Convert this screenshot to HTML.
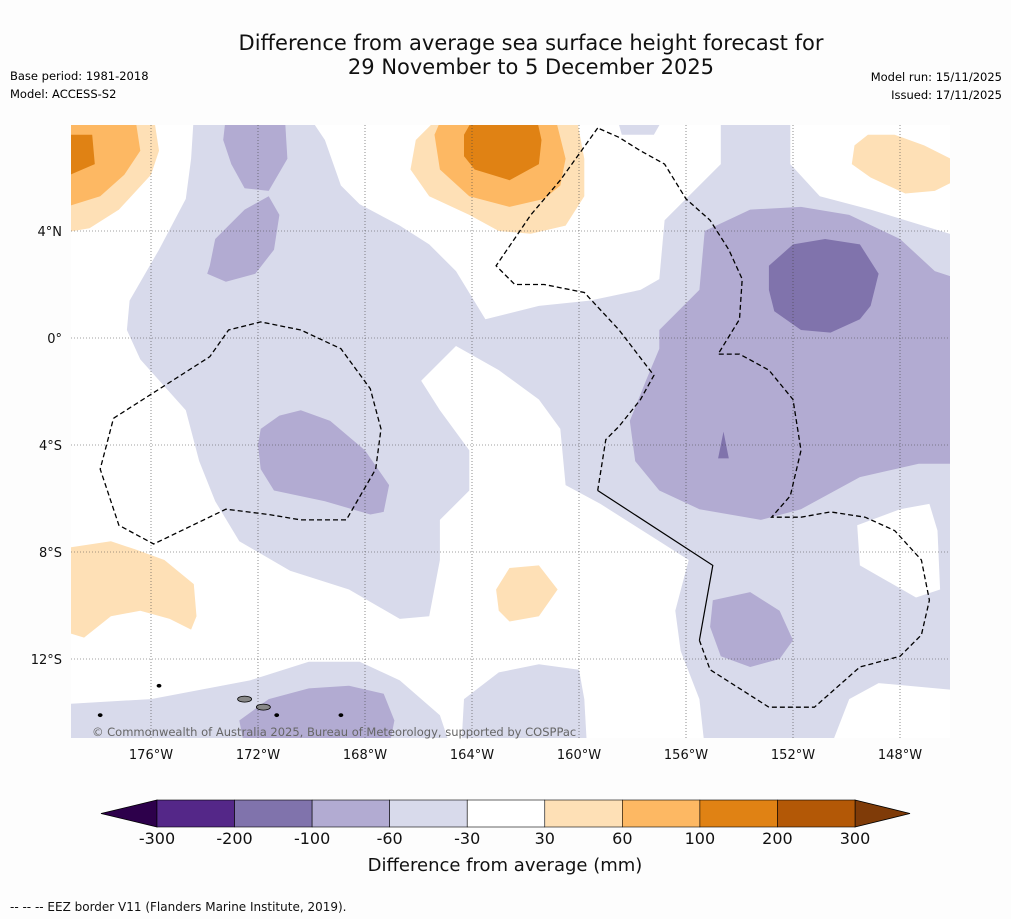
<!DOCTYPE html>
<html><head><meta charset="utf-8">
<style>
body{margin:0;background:#fdfdfd;font-family:"DejaVu Sans","Liberation Sans",sans-serif;}
svg{display:block;font-family:"DejaVu Sans","Liberation Sans",sans-serif;}
</style></head>
<body>
<svg id="chart" width="1011" height="919" viewBox="0 0 1011 919" xmlns="http://www.w3.org/2000/svg">
<rect width="1011" height="919" fill="#fdfdfd"/>
<text x="531" y="50" font-size="21" text-anchor="middle" fill="#111">Difference from average sea surface height forecast for</text>
<text x="531" y="74" font-size="21" text-anchor="middle" fill="#111">29 November to 5 December 2025</text>
<text x="10" y="80" font-size="11.5">Base period: 1981-2018</text>
<text x="10" y="98" font-size="11.5">Model: ACCESS-S2</text>
<text x="1002" y="81" font-size="11.5" text-anchor="end">Model run: 15/11/2025</text>
<text x="1002" y="99" font-size="11.5" text-anchor="end">Issued: 17/11/2025</text>
<defs><clipPath id="mapclip"><rect x="71" y="125" width="879" height="613"/></clipPath></defs>
<rect x="71" y="125" width="879" height="613" fill="#ffffff"/>
<g id="contours" clip-path="url(#mapclip)"></g>
<g id="grid" clip-path="url(#mapclip)"></g>
<g id="eez" clip-path="url(#mapclip)"></g>
<g id="axes"></g>
<text x="92" y="736" font-size="11.5" fill="#666">© Commonwealth of Australia 2025, Bureau of Meteorology, supported by COSPPac</text>
<g id="colorbar"></g>
<text x="505" y="871" font-size="18" text-anchor="middle" fill="#111">Difference from average (mm)</text>
<text x="10" y="911" font-size="12" fill="#111">--  --  -- EEZ border V11 (Flanders Marine Institute, 2019).</text>
</svg>
<script>
const lonTicks=[-176,-172,-168,-164,-160,-156,-152,-148];
const latTicks=[4,0,-4,-8,-12];
const cbBounds=[-300,-200,-100,-60,-30,30,60,100,200,300];
const cbColors=["#542788","#8073ac","#b2abd2","#d8daeb","#ffffff","#fee0b6","#fdb863","#e08214","#b35806"];
const levelColors={"-3":"#542788","-2":"#8073ac","-1":"#b2abd2","-0.5":"#d8daeb","0":"#ffffff","0.5":"#fee0b6","1":"#fdb863","2":"#e08214","3":"#b35806"};
const lavenderMain=[[-174.4,8.3],[-170.1,8.3],[-169.5,7.4],[-168.9,5.7],[-168.2,5.0],[-166.7,4.2],[-165.6,3.5],[-164.6,2.5],[-163.5,0.7],[-161.5,1.2],[-159.6,1.4],[-157.7,1.8],[-157.0,2.2],[-156.8,4.4],[-156.0,5.2],[-154.7,6.5],[-154.7,8.3],[-152.1,8.3],[-152.1,6.5],[-151.0,5.3],[-149.1,4.8],[-145.5,3.7],[-145.5,-13.2],[-148.8,-12.9],[-149.9,-13.5],[-150.6,-15.3],[-155.3,-15.3],[-155.5,-13.5],[-156.2,-11.7],[-156.4,-10.2],[-155.9,-8.3],[-157.0,-7.6],[-159.2,-6.2],[-160.5,-5.5],[-160.7,-3.4],[-161.5,-2.3],[-163.0,-1.2],[-164.6,-0.3],[-165.9,-1.6],[-165.2,-2.7],[-164.1,-4.2],[-164.1,-5.7],[-165.2,-6.8],[-165.2,-8.3],[-165.6,-10.4],[-166.7,-10.5],[-168.6,-9.4],[-170.8,-8.7],[-172.7,-7.6],[-173.6,-6.1],[-174.2,-4.6],[-174.7,-2.7],[-176.4,-0.8],[-176.9,0.3],[-176.8,1.4],[-175.7,3.3],[-174.7,5.2],[-174.5,6.7]];
const lavenderSW=[[-179.5,-13.7],[-176.0,-13.5],[-172.3,-12.8],[-170.1,-12.1],[-168.2,-12.1],[-166.7,-12.8],[-165.2,-14.1],[-164.8,-15.3],[-179.5,-15.3]];
const lavenderS=[[-164.4,-15.3],[-164.3,-13.5],[-163.0,-12.5],[-161.5,-12.2],[-160.0,-12.4],[-159.8,-13.5],[-159.7,-15.3]];
const lavenderTop=[[-158.6,8.3],[-156.8,8.3],[-157.2,7.6],[-158.4,7.6]];
const whiteHoleE=[[-149.6,-7.0],[-148.0,-6.4],[-146.9,-6.2],[-146.6,-7.2],[-146.5,-9.4],[-147.4,-9.7],[-148.8,-8.9],[-149.5,-8.5]];
const purpleA=[[-173.2,8.3],[-171.0,8.3],[-170.9,6.7],[-171.6,5.5],[-172.5,5.6],[-173.0,6.5],[-173.3,7.4]];
const purpleB=[[-173.8,2.7],[-173.6,3.7],[-172.5,4.8],[-171.6,5.3],[-171.2,4.6],[-171.4,3.3],[-172.1,2.4],[-173.2,2.1],[-173.9,2.4]];
const purpleC=[[-171.9,-3.4],[-171.2,-2.9],[-170.4,-2.7],[-169.3,-3.1],[-168.0,-4.2],[-167.1,-5.5],[-167.3,-6.5],[-167.8,-6.6],[-169.5,-6.1],[-171.4,-5.7],[-171.9,-4.9],[-172.0,-4.0]];
const purpleD=[[-157.0,0.3],[-155.5,1.8],[-155.3,4.0],[-153.6,4.8],[-151.7,4.9],[-149.9,4.6],[-148.0,3.7],[-146.7,2.5],[-145.5,2.1],[-145.5,-4.7],[-147.3,-4.7],[-149.5,-5.2],[-151.7,-6.4],[-153.2,-6.8],[-155.5,-6.4],[-157.0,-5.7],[-157.9,-4.6],[-158.1,-3.1],[-157.5,-1.6],[-157.0,-0.4]];
const purpleE=[[-155.0,-9.8],[-153.6,-9.5],[-152.5,-10.2],[-152.0,-11.3],[-152.5,-12.0],[-153.6,-12.3],[-154.7,-11.9],[-155.1,-10.8]];
const purpleF=[[-172.7,-14.3],[-171.6,-13.5],[-170.1,-13.1],[-168.6,-13.0],[-167.3,-13.3],[-166.9,-14.3],[-167.1,-15.3],[-172.5,-15.3]];
const darkPurple=[[-152.9,2.7],[-152.0,3.5],[-150.8,3.7],[-149.5,3.5],[-148.8,2.4],[-149.1,1.2],[-149.5,0.7],[-150.6,0.2],[-151.7,0.3],[-152.7,1.0],[-152.9,1.8]];
const darkSpike=[[-154.8,-4.5],[-154.6,-3.5],[-154.4,-4.5]];
const lightOrangeNW=[[-179.5,8.3],[-175.9,8.3],[-175.7,7.0],[-176.0,6.1],[-177.2,4.8],[-178.3,4.1],[-179.5,3.9]];
const lightOrangeN=[[-166.1,7.4],[-165.2,8.3],[-160.1,8.3],[-159.8,6.7],[-159.8,5.3],[-160.5,4.2],[-161.8,3.9],[-163.0,4.0],[-164.1,4.6],[-165.6,5.3],[-166.3,6.3]];
const lightOrangeNE=[[-149.7,7.2],[-149.2,7.6],[-148.2,7.6],[-147.1,7.2],[-146.1,6.7],[-145.5,6.7],[-145.5,6.1],[-146.7,5.5],[-147.8,5.4],[-149.1,6.0],[-149.8,6.5]];
const lightOrangeSW=[[-179.5,-7.9],[-177.5,-7.6],[-176.6,-7.9],[-175.5,-8.3],[-174.4,-9.2],[-174.3,-10.4],[-174.5,-10.9],[-175.3,-10.5],[-176.4,-10.2],[-177.5,-10.4],[-178.5,-11.2],[-179.5,-10.9]];
const lightOrangeC=[[-163.1,-9.4],[-162.6,-8.6],[-161.5,-8.5],[-160.8,-9.4],[-161.5,-10.4],[-162.6,-10.6],[-163.0,-10.2]];
const midOrangeNW=[[-179.5,8.3],[-176.6,8.3],[-176.4,7.0],[-177.0,6.1],[-177.9,5.3],[-179.5,4.8]];
const midOrangeN=[[-165.4,7.6],[-165.1,8.3],[-160.9,8.3],[-160.5,6.7],[-160.7,5.7],[-161.3,5.2],[-162.6,4.9],[-164.1,5.3],[-165.2,6.3]];
const darkOrangeNW=[[-179.5,7.6],[-178.2,7.6],[-178.1,6.5],[-179.5,5.9]];
const darkOrangeN=[[-164.3,7.6],[-163.9,8.3],[-161.6,8.3],[-161.4,7.4],[-161.5,6.5],[-162.6,5.9],[-163.9,6.3],[-164.3,6.8]];
const eezWest=[[-177.4,-3.0],[-173.8,-0.7],[-173.1,0.3],[-171.9,0.6],[-170.4,0.3],[-168.9,-0.4],[-167.8,-1.9],[-167.4,-3.4],[-167.6,-4.9],[-168.7,-6.8],[-170.4,-6.8],[-171.6,-6.6],[-173.2,-6.4],[-175.9,-7.7],[-177.2,-7.0],[-177.9,-4.9],[-177.4,-3.0]];
const eezCentral=[[-159.3,7.85],[-160.7,5.9],[-161.8,4.6],[-163.1,2.7],[-162.4,2.0],[-161.3,2.0],[-159.8,1.7],[-158.5,0.3],[-157.2,-1.4],[-157.7,-2.3],[-158.5,-3.3],[-159.0,-3.8],[-159.3,-5.7]];
const boundarySolid=[[-159.3,-5.7],[-155.0,-8.5],[-155.5,-11.3]];
const eezEast=[[-155.5,-11.3],[-155.1,-12.4],[-152.9,-13.8],[-151.2,-13.8],[-149.5,-12.3],[-148.0,-11.9],[-147.2,-11.1],[-146.9,-9.8],[-147.2,-8.3],[-148.2,-7.2],[-149.3,-6.7],[-150.6,-6.5],[-151.7,-6.7],[-152.8,-6.7],[-152.1,-5.9],[-151.7,-4.2],[-152.0,-2.3],[-152.9,-1.2],[-154.0,-0.6],[-154.8,-0.6],[-154.0,0.7],[-153.9,2.2],[-154.4,3.3],[-155.1,4.4],[-156.0,5.2],[-156.8,6.5],[-157.7,7.0],[-158.5,7.5],[-159.3,7.85]];
const islands=[[-172.5,-13.5],[-171.8,-13.8],[-177.9,-14.1],[-175.7,-13.0],[-171.3,-14.1],[-168.9,-14.1]];

const NS="http://www.w3.org/2000/svg";
const X=lon=>151+(lon+176)*26.75;
const Y=lat=>338-lat*26.75;
const pts=a=>a.map(p=>X(p[0]).toFixed(1)+","+Y(p[1]).toFixed(1)).join(" ");
function mk(tag,attrs,parent){const e=document.createElementNS(NS,tag);for(const k in attrs)e.setAttribute(k,attrs[k]);parent.appendChild(e);return e;}

const cg=document.getElementById("contours");
const layers=[
 ["lavender-main",lavenderMain,"-0.5"],["lavender-southwest",lavenderSW,"-0.5"],["lavender-south",lavenderS,"-0.5"],["lavender-top",lavenderTop,"-0.5"],["white-hole-east",whiteHoleE,"0"],
 ["purple-a",purpleA,"-1"],["purple-b",purpleB,"-1"],["purple-c",purpleC,"-1"],["purple-d",purpleD,"-1"],["purple-e",purpleE,"-1"],["purple-f",purpleF,"-1"],
 ["dark-purple",darkPurple,"-2"],["dark-purple-spike",darkSpike,"-2"],
 ["light-orange-nw",lightOrangeNW,"0.5"],["light-orange-n",lightOrangeN,"0.5"],["light-orange-ne",lightOrangeNE,"0.5"],["light-orange-sw",lightOrangeSW,"0.5"],["light-orange-c",lightOrangeC,"0.5"],
 ["mid-orange-nw",midOrangeNW,"1"],["mid-orange-n",midOrangeN,"1"],["dark-orange-nw",darkOrangeNW,"2"],["dark-orange-n",darkOrangeN,"2"]];
layers.forEach(l=>{
 const p=mk("polygon",{points:pts(l[1]),fill:levelColors[l[2]]},cg);
 
 
});
islands.forEach((c,i)=>{
 const e=mk("ellipse",{cx:X(c[0]),cy:Y(c[1]),rx:i<2?7:2,ry:i<2?3:1.5,fill:i<2?"#888":"#000",stroke:"#000","stroke-width":0.8},cg);
 
 
});

const gg=document.getElementById("grid"), ag=document.getElementById("axes");
lonTicks.forEach(v=>{
 const l=mk("line",{x1:X(v),x2:X(v),y1:125,y2:738,stroke:"#444","stroke-width":0.6,"stroke-dasharray":"1,2"},gg);
 
 
 const t=mk("text",{x:X(v),y:759,"font-size":13,"text-anchor":"middle",fill:"#111"},ag);
 t.textContent=Math.abs(v)+"°W";
 
 
});
latTicks.forEach(v=>{
 const l=mk("line",{x1:71,x2:950,y1:Y(v),y2:Y(v),stroke:"#444","stroke-width":0.6,"stroke-dasharray":"1,2"},gg);
 
 
 const t=mk("text",{x:62,y:Y(v)+5,"font-size":13,"text-anchor":"end",fill:"#111"},ag);
 t.textContent=v===0?"0°":Math.abs(v)+"°"+(v>0?"N":"S");
 
 
});

const eg=document.getElementById("eez");
[["eez-west",eezWest],["eez-central",eezCentral],["eez-east",eezEast]].forEach(d=>{
 const p=mk("polyline",{points:pts(d[1]),fill:"none",stroke:"#000","stroke-width":1.3,"stroke-dasharray":"5,3"},eg);
 
 
});
const sb=mk("polyline",{points:pts(boundarySolid),fill:"none",stroke:"#000","stroke-width":1.2},eg);



const cb=document.getElementById("colorbar");
const cbX0=157,cbX1=855,cbY=800,cbH=27,n=cbColors.length,sw=(cbX1-cbX0)/n;
const CX=i=>cbX0+i*sw;
const lt=mk("polygon",{points:`${CX(0)},${cbY} 101,${cbY+cbH/2} ${CX(0)},${cbY+cbH}`,fill:"#2d004b",stroke:"#000","stroke-width":0.8},cb);


const rt=mk("polygon",{points:`${CX(n)},${cbY} 910,${cbY+cbH/2} ${CX(n)},${cbY+cbH}`,fill:"#7f3b08",stroke:"#000","stroke-width":0.8},cb);


cbColors.forEach((c,i)=>{
 const r=mk("rect",{x:CX(i),y:cbY,width:sw,height:cbH,fill:c,stroke:"#000","stroke-width":0.6},cb);
 
 
});
cbBounds.forEach((v,i)=>{
 const t=mk("text",{x:CX(i),y:844,"font-size":16,"text-anchor":"middle",fill:"#111"},cb);
 t.textContent=v;
 
 
});
</script>
</body></html>
